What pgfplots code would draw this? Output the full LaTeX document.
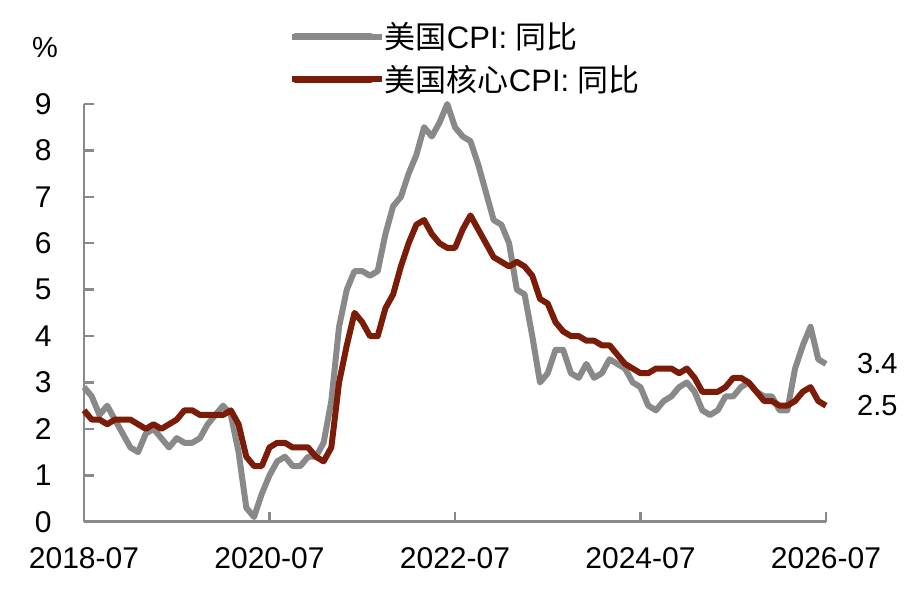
\documentclass[border=0pt]{standalone}
\usepackage{pgfplots}
\usepackage{pgfplotstable}
\pgfplotsset{compat=1.18}
\usepackage{fontspec}
\setmainfont{Liberation Sans}
\newfontfamily\cjk{Noto Sans CJK SC}
\definecolor{cpigray}{RGB}{137,137,137}
\definecolor{corered}{RGB}{122,28,8}
\pgfplotstableread{
m cpi core
0 2.9 2.4
1 2.7 2.2
2 2.3 2.2
3 2.5 2.1
4 2.2 2.2
5 1.9 2.2
6 1.6 2.2
7 1.5 2.1
8 1.9 2.0
9 2.0 2.1
10 1.8 2.0
11 1.6 2.1
12 1.8 2.2
13 1.7 2.4
14 1.7 2.4
15 1.8 2.3
16 2.1 2.3
17 2.3 2.3
18 2.5 2.3
19 2.3 2.4
20 1.5 2.1
21 0.3 1.4
22 0.1 1.2
23 0.6 1.2
24 1.0 1.6
25 1.3 1.7
26 1.4 1.7
27 1.2 1.6
28 1.2 1.6
29 1.4 1.6
30 1.4 1.4
31 1.7 1.3
32 2.6 1.6
33 4.2 3.0
34 5.0 3.8
35 5.4 4.5
36 5.4 4.3
37 5.3 4.0
38 5.4 4.0
39 6.2 4.6
40 6.8 4.9
41 7.0 5.5
42 7.5 6.0
43 7.9 6.4
44 8.5 6.5
45 8.3 6.2
46 8.6 6.0
47 9.0 5.9
48 8.5 5.9
49 8.3 6.3
50 8.2 6.6
51 7.7 6.3
52 7.1 6.0
53 6.5 5.7
54 6.4 5.6
55 6.0 5.5
56 5.0 5.6
57 4.9 5.5
58 4.0 5.3
59 3.0 4.8
60 3.2 4.7
61 3.7 4.3
62 3.7 4.1
63 3.2 4.0
64 3.1 4.0
65 3.4 3.9
66 3.1 3.9
67 3.2 3.8
68 3.5 3.8
69 3.4 3.6
70 3.3 3.4
71 3.0 3.3
72 2.9 3.2
73 2.5 3.2
74 2.4 3.3
75 2.6 3.3
76 2.7 3.3
77 2.9 3.2
78 3.0 3.3
79 2.8 3.1
80 2.4 2.8
81 2.3 2.8
82 2.4 2.8
83 2.7 2.9
84 2.7 3.1
85 2.9 3.1
86 3.0 3.0
87 2.8 2.8
88 2.7 2.6
89 2.7 2.6
90 2.4 2.5
91 2.4 2.5
92 3.3 2.6
93 3.8 2.8
94 4.2 2.9
95 3.5 2.6
96 3.4 2.5
}\cpidata
\begin{document}
\begin{tikzpicture}
\path[use as bounding box] (0,0) rectangle (913pt,590pt);
\begin{axis}[
  at={(84pt,68.3pt)}, anchor=south west,
  scale only axis, width=742pt, height=417.7pt,
  xmin=0, xmax=96, ymin=0, ymax=9,
  axis x line=bottom, axis y line=left,
  axis line style={-, draw=cpigray, line width=2.5pt},
  xtick={0,24,48,72,96},
  xticklabels={2018-07,2020-07,2022-07,2024-07,2026-07},
  ytick={0,1,...,9},
  tick align=inside, major tick length=10pt,
  tick style={draw=cpigray, line width=2.5pt},
  /pgf/number format/assume math mode=true,
  ticklabel style={font=\fontsize{30}{35}\selectfont, text=black},
  xticklabel style={yshift=-22pt},
  yticklabel style={xshift=-29pt},
  clip=false,
  legend style={draw=none, fill=none, inner sep=0pt,
    at={(0.2760,1.195)}, anchor=north west,
    font=\fontsize{31}{37}\selectfont, row sep=15pt,
    nodes={inner sep=0pt}},
  legend cell align=left,
  legend image code/.code={\draw[#1, line width=6.7pt, line cap=round] (3.4pt,0pt) -- (78.6pt,0pt); \path (0pt,0pt) -- (90pt,0pt);},
]
\addplot[cpigray, line width=6pt, line join=round] table[x=m, y=cpi] {\cpidata};
\addlegendentry{{\cjk 美国}CPI: {\cjk 同比}}
\addplot[corered, line width=6pt, line join=round] table[x=m, y=core] {\cpidata};
\addlegendentry{{\cjk 美国核心}CPI: {\cjk 同比}}
\node[anchor=west, inner sep=0pt, xshift=31pt, font=\fontsize{29}{34}\selectfont] at (axis cs:96,3.4) {3.4};
\node[anchor=west, inner sep=0pt, xshift=31pt, font=\fontsize{29}{34}\selectfont] at (axis cs:96,2.5) {2.5};
\end{axis}
\node[font=\fontsize{29}{34}\selectfont, inner sep=0pt] at (45pt,542pt) {\%};
\end{tikzpicture}
\end{document}
